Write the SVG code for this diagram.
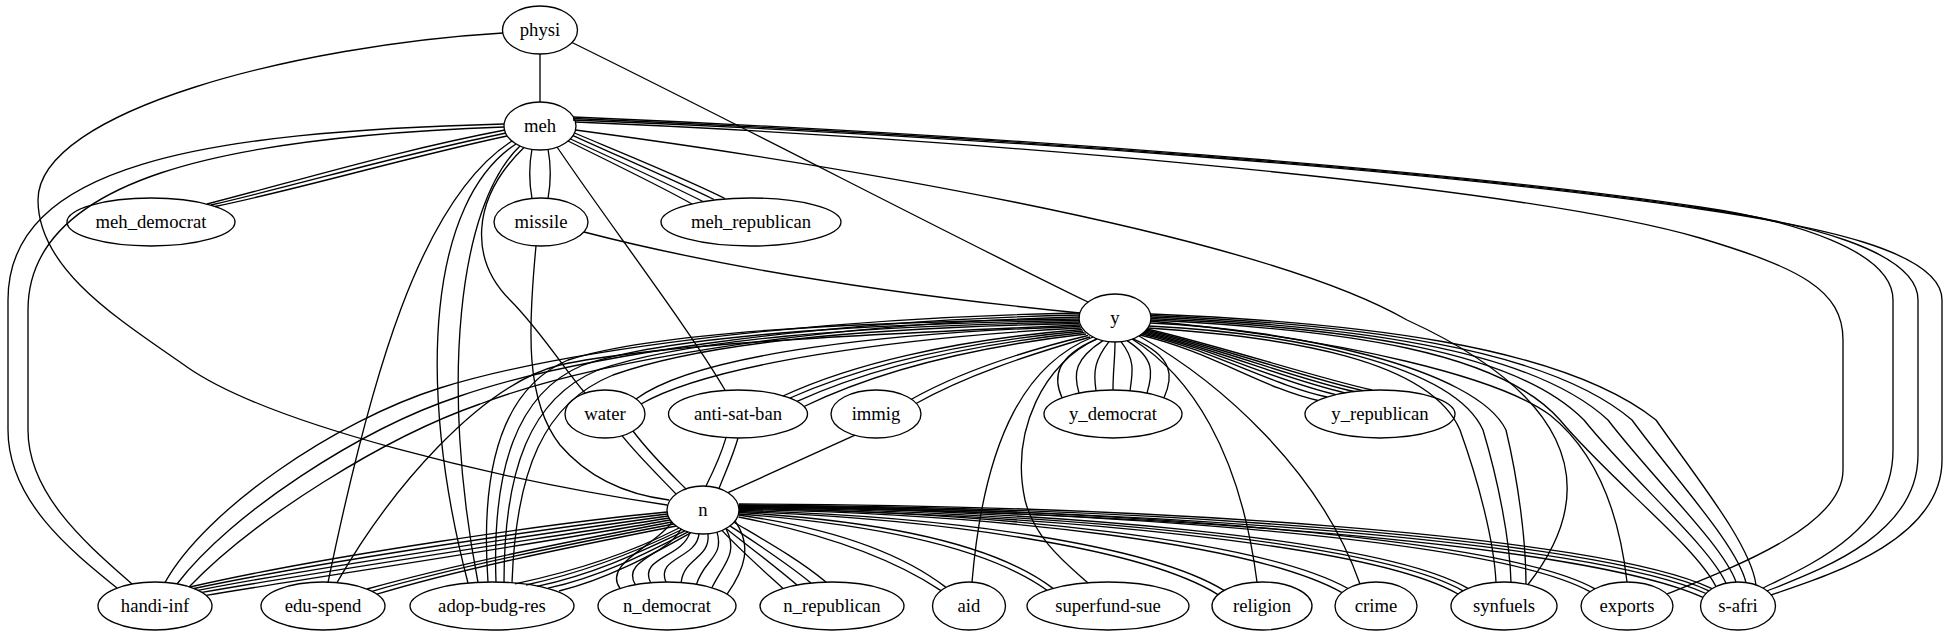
<svg xmlns="http://www.w3.org/2000/svg" width="1947" height="635" viewBox="0 0 1947 635">
<style>
.node ellipse{fill:none;stroke:#000;stroke-width:1.33}
.node text{font-family:"Liberation Serif","Times New Roman","DejaVu Serif",serif;font-size:18.67px;text-anchor:middle;fill:#000}
#edges path{fill:none;stroke:#000;stroke-width:1.33}
</style>
<rect width="1947" height="635" fill="#fff"/>
<g id="edges">
<path d="M540,54 L540,102"/>
<path d="M503,33 C300,45 38,110 38,200 C38,270 120,320 187,367 C270,425 500,480 667,505"/>
<path d="M572,42.5 C750,130 950,235 1088,302"/>
<path d="M505,130 C400,150 300,180 207,204"/>
<path d="M506,133 C402,154 302,184 211,205"/>
<path d="M507,136 C404,158 304,188 215,206.5"/>
<path d="M568,141 C610,162 660,186 692,204"/>
<path d="M570.5,139 C614,159 668,184 703,201.5"/>
<path d="M573,135.6 C618,156 676,181 714,199.5"/>
<path d="M574.5,133 C622,153 684,178 725,198.5"/>
<path d="M532,149 C529,165 529,182 532,198.5"/>
<path d="M548,149 C551,165 551,182 548,198.5"/>
<path d="M584,232 C750,275 950,300 1080,313"/>
<path d="M536,246 C528,330 525,400 560,445 C590,480 630,495 669,500"/>
<path d="M524,147.5 C470,200 470,260 510,300 C540,330 565,370 585,393"/>
<path d="M557,147 C610,225 690,330 725,390"/>
<path d="M512,141 C420,200 370,380 328,582.5"/>
<path d="M516,144 C430,200 415,380 468,583"/>
<path d="M520,146 C458,205 440,385 478,582.5"/>
<path d="M504,124 C200,132 8,165 8,300 L8,430 C8,500 70,550 117,588"/>
<path d="M504,127 C225,137 28,178 28,310 L28,430 C28,495 88,545 132,584"/>
<path d="M575.5,130 C800,160 1250,230 1407,320 C1560,390 1610,480 1528,584.5"/>
<path d="M575.5,122 C900,135 1500,180 1700,238 C1800,268 1843,290 1843,340 L1843,470 C1843,525 1740,565 1667,594"/>
<path d="M573,117 C1000,135 1450,170 1700,207 C1790,220 1893,250 1893,300 L1893,450 C1893,530 1810,565 1763,588"/>
<path d="M573,118.5 C1000,136 1450,171 1700,208 C1800,222 1918,250 1918,300 L1918,455 C1918,535 1820,570 1767,591"/>
<path d="M573,120 C1000,137 1450,172 1700,209 C1810,225 1942,250 1942,300 L1942,460 C1942,540 1830,575 1771,595"/>
<path d="M1080,313 C800,318 555,352 440,388 C335,421 205,510 165,582.5"/>
<path d="M1080,315 C800,321 570,358 460,396 C360,429 230,514 177,584"/>
<path d="M1080,317 C800,324 585,364 480,404 C385,437 255,518 189,587"/>
<path d="M1079,319 C850,322 655,332 568,360 C502,388 480,470 488,582"/>
<path d="M1079,320.5 C850,324 670,336 583,365 C516,393 492,470 496,582"/>
<path d="M1079,322 C850,326 685,340 598,370 C530,398 504,470 504,582.3"/>
<path d="M1079,323.5 C850,328 700,344 613,375 C544,403 516,470 512,582.7"/>
<path d="M1080,325 C850,335 650,345 560,365 C480,385 390,490 337,582.6"/>
<path d="M1080.5,326.5 C900,332 700,352 636,399"/>
<path d="M1081,328 C900,337 710,364 641,404"/>
<path d="M1082,329.5 C950,340 850,365 783,396"/>
<path d="M1083,331 C950,343 855,369 790,398"/>
<path d="M1084.5,332.5 C952,346 860,373 797,401.3"/>
<path d="M1086,334 C955,349 865,377 804,406.5"/>
<path d="M1088,335.5 C1020,352 960,372 911,399.5"/>
<path d="M1090,337 C1025,356 965,376 916,403.5"/>
<path d="M1097,338.8 C1055,356.8 1053,377.8 1062,397.8"/>
<path d="M1103,340.6 C1075,358.6 1073,373.1 1079,393.1"/>
<path d="M1109,341.7 C1095,359.7 1093,370.7 1096,390.7"/>
<path d="M1115,342 C1115,360 1113,370 1113,390"/>
<path d="M1121,341.7 C1135,359.7 1133,370.7 1130,390.7"/>
<path d="M1127,340.6 C1155,358.6 1153,373.1 1147,393.1"/>
<path d="M1133,338.8 C1175,356.8 1173,377.8 1164,397.8"/>
<path d="M1147,329 C1217,345 1317,378 1372,390"/>
<path d="M1146,330 C1216,346 1308,378.6 1363,390.6"/>
<path d="M1145,331 C1215,347 1299,379.5 1354,391.5"/>
<path d="M1144,332 C1214,348 1290,380.8 1345,392.8"/>
<path d="M1143,333 C1213,349 1281,382.6 1336,394.6"/>
<path d="M1142,334 C1212,350 1272,385 1327,397"/>
<path d="M1140,335 C1210,351 1263,388.5 1318,400.5"/>
<path d="M1093,337 C1030,362 985,430 972,582"/>
<path d="M1097,339 C1045,362 1010,430 1025,500 C1035,540 1068,565 1088,583"/>
<path d="M1132,339 C1190,375 1240,450 1257,582"/>
<path d="M1139,336 C1220,382 1320,470 1360,584"/>
<path d="M1148,328 C1290,337 1430,360 1460,430 C1478,480 1494,540 1496,582.3"/>
<path d="M1149,326 C1290,333 1453,364 1483,430 C1498,480 1510,540 1511,582.2"/>
<path d="M1150,323 C1290,329 1476,368 1506,430 C1518,480 1526,540 1526,584"/>
<path d="M1150,321 C1350,340 1500,378 1550,415 C1600,455 1620,520 1627,582"/>
<path d="M1151,320 C1350,330 1500,352 1560,420 C1610,480 1695,545 1716,586.6"/>
<path d="M1151,318.5 C1350,328 1515,350 1584,420 C1632,480 1709,545 1726,583.3"/>
<path d="M1151,317 C1350,326 1530,348 1608,420 C1654,480 1723,545 1736,582"/>
<path d="M1151,315.5 C1350,324 1545,346 1632,420 C1676,480 1737,545 1746,582.6"/>
<path d="M1151,314 C1350,322 1560,344 1656,420 C1698,480 1751,545 1756,585"/>
<path d="M622,435.7 C640,458 660,477 676,494"/>
<path d="M633,431 C651,455 671,474 686,489"/>
<path d="M726,437.6 C721,455 713,472 706,486"/>
<path d="M738,438 C733,456 725,473 719,488.5"/>
<path d="M855,435.2 L728,492.7"/>
<path d="M667.1,512 C560,522 330,555 190,587"/>
<path d="M667.5,514 C560,526.5 330,560 194,588.5"/>
<path d="M668.1,516 C560,531 330,565 198,590.3"/>
<path d="M669.1,518 C560,535.5 330,570 202,592.4"/>
<path d="M670.3,520 C560,540 330,575 206,595.3"/>
<path d="M671.8,522 C570,541 460,563 367,589"/>
<path d="M673.8,524 C570,544 460,566 372,591.3"/>
<path d="M676.2,526 C570,547 460,569 377,594.2"/>
<path d="M679,528 C640,548 590,568 515,583.8"/>
<path d="M682,529.5 C640,550 590,571 526,585"/>
<path d="M685,530.8 C640,552 595,574 537,586.3"/>
<path d="M688,531.8 C645,554 600,577 548,588.2"/>
<path d="M691,532.6 C650,556 605,580 559,591"/>
<path d="M672,522.2 C654.5,547 602.5,563.4 620,588.4"/>
<path d="M681,529 C668.5,554 620.3,559.7 635.3,584.7"/>
<path d="M690,532.4 C682.5,557.4 638.1,557.7 650.6,582.7"/>
<path d="M699,533.9 C696.5,558.9 655.9,557 665.9,582"/>
<path d="M708,533.8 C710.5,558.8 683.7,557.5 681.2,582.5"/>
<path d="M717,532.1 C724.5,557.1 704,559.4 696.5,584.4"/>
<path d="M726,528.5 C738.5,553.5 724.3,562.8 711.8,587.8"/>
<path d="M735,521 C752.5,546 744.6,569.1 727.1,594.1"/>
<path d="M722,530.4 C740,550 765,572 783,588.4"/>
<path d="M726,528.5 C748,546 775,566 797,585"/>
<path d="M730,525.9 C756,543 787,563 811,583"/>
<path d="M734,522.2 C764,540 800,560 826,582.1"/>
<path d="M738.7,515 C830,528 900,552 946,587.4"/>
<path d="M738.5,517 C825,534 895,560 941,590.6"/>
<path d="M739,512.5 C900,522 1000,548 1053,588.4"/>
<path d="M739,514 C895,526 995,553 1047,590.2"/>
<path d="M739,510.5 C950,516 1150,545 1224,590.4"/>
<path d="M739,511.5 C945,519 1145,549 1218,594.6"/>
<path d="M739,508.5 C1000,512 1260,540 1348,588.5"/>
<path d="M739,509.5 C1000,514 1255,544 1342,592.6"/>
<path d="M739,506.5 C1050,510 1380,538 1468,588.4"/>
<path d="M739,507.5 C1050,512 1375,541 1463,590.8"/>
<path d="M739,508.5 C1050,514 1370,544 1458,594"/>
<path d="M739,505.5 C1100,508 1500,536 1595,588.8"/>
<path d="M739,506.5 C1100,510 1495,539 1590,591.7"/>
<path d="M739,504 C1150,505 1600,535 1712,588.7"/>
<path d="M739,505 C1150,507 1595,538 1709,590.8"/>
<path d="M739,506 C1150,509 1590,541 1706,593.5"/>
<path d="M739,507 C1150,511 1585,544 1703,597.4"/>
</g>
<g id="node-physi" class="node"><ellipse cx="540" cy="30" rx="37.5" ry="24"/><text x="540" y="36">physi</text></g>
<g id="node-meh" class="node"><ellipse cx="540" cy="126" rx="36" ry="24"/><text x="540" y="132">meh</text></g>
<g id="node-meh_democrat" class="node"><ellipse cx="151" cy="222" rx="84" ry="24"/><text x="151" y="228">meh_democrat</text></g>
<g id="node-missile" class="node"><ellipse cx="541" cy="222" rx="47" ry="24"/><text x="541" y="228">missile</text></g>
<g id="node-meh_republican" class="node"><ellipse cx="751" cy="222" rx="90" ry="24"/><text x="751" y="228">meh_republican</text></g>
<g id="node-y" class="node"><ellipse cx="1115" cy="318" rx="36" ry="24"/><text x="1115" y="324">y</text></g>
<g id="node-water" class="node"><ellipse cx="605" cy="414" rx="40" ry="24"/><text x="605" y="420">water</text></g>
<g id="node-anti-sat-ban" class="node"><ellipse cx="738" cy="414" rx="69.5" ry="24"/><text x="738" y="420">anti-sat-ban</text></g>
<g id="node-immig" class="node"><ellipse cx="876" cy="414" rx="45" ry="24"/><text x="876" y="420">immig</text></g>
<g id="node-y_democrat" class="node"><ellipse cx="1113" cy="414" rx="69" ry="24"/><text x="1113" y="420">y_democrat</text></g>
<g id="node-y_republican" class="node"><ellipse cx="1380" cy="414" rx="75" ry="24"/><text x="1380" y="420">y_republican</text></g>
<g id="node-n" class="node"><ellipse cx="703" cy="510" rx="36" ry="24"/><text x="703" y="516">n</text></g>
<g id="node-handi-inf" class="node"><ellipse cx="155" cy="606" rx="57" ry="24"/><text x="155" y="612">handi-inf</text></g>
<g id="node-edu-spend" class="node"><ellipse cx="323" cy="606" rx="62" ry="24"/><text x="323" y="612">edu-spend</text></g>
<g id="node-adop-budg-res" class="node"><ellipse cx="492" cy="606" rx="82" ry="24"/><text x="492" y="612">adop-budg-res</text></g>
<g id="node-n_democrat" class="node"><ellipse cx="667" cy="606" rx="69" ry="24"/><text x="667" y="612">n_democrat</text></g>
<g id="node-n_republican" class="node"><ellipse cx="832" cy="606" rx="72" ry="24"/><text x="832" y="612">n_republican</text></g>
<g id="node-aid" class="node"><ellipse cx="969" cy="606" rx="36.5" ry="24"/><text x="969" y="612">aid</text></g>
<g id="node-superfund-sue" class="node"><ellipse cx="1108" cy="606" rx="81" ry="24"/><text x="1108" y="612">superfund-sue</text></g>
<g id="node-religion" class="node"><ellipse cx="1262" cy="606" rx="50" ry="24"/><text x="1262" y="612">religion</text></g>
<g id="node-crime" class="node"><ellipse cx="1376" cy="606" rx="41" ry="24"/><text x="1376" y="612">crime</text></g>
<g id="node-synfuels" class="node"><ellipse cx="1504" cy="606" rx="53" ry="24"/><text x="1504" y="612">synfuels</text></g>
<g id="node-exports" class="node"><ellipse cx="1627" cy="606" rx="46" ry="24"/><text x="1627" y="612">exports</text></g>
<g id="node-s-afri" class="node"><ellipse cx="1738" cy="606" rx="37.5" ry="24"/><text x="1738" y="612">s-afri</text></g>
</svg>
